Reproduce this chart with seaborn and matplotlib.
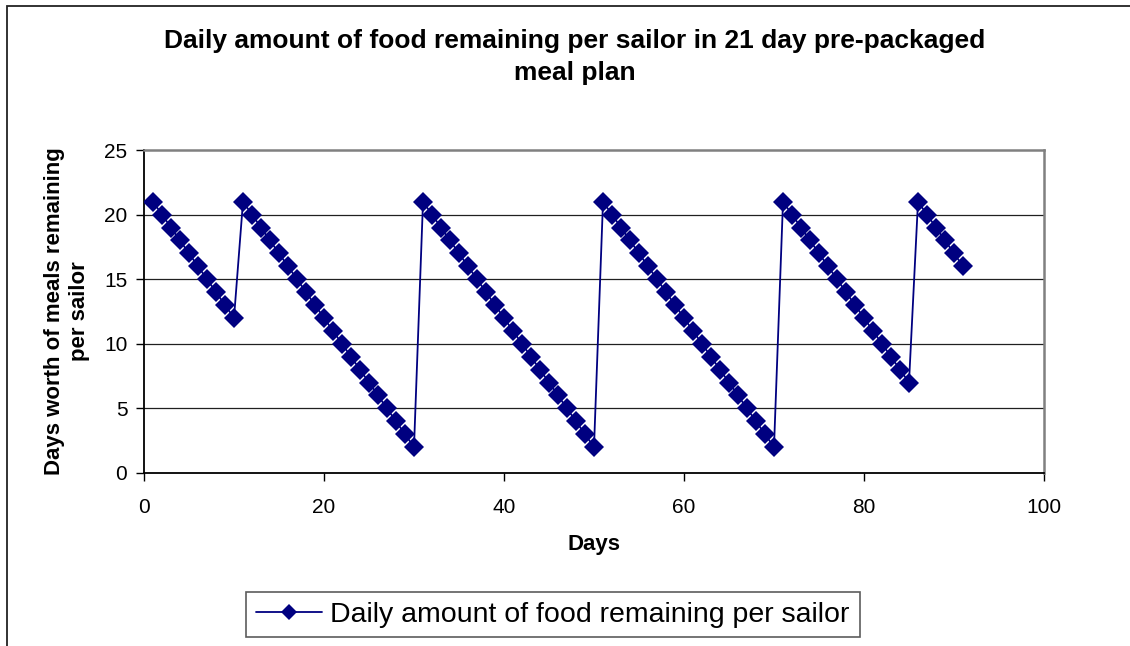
import matplotlib
matplotlib.use("Agg")
import matplotlib.pyplot as plt
import seaborn as sns
from matplotlib.patches import Rectangle

# day number for each point
days = list(range(1, 92))
# days worth of meals remaining per sailor
food_left = [21, 20, 19, 18, 17, 16, 15, 14, 13, 12,
             21, 20, 19, 18, 17, 16, 15, 14, 13, 12, 11, 10, 9, 8, 7, 6, 5, 4, 3, 2,
             21, 20, 19, 18, 17, 16, 15, 14, 13, 12, 11, 10, 9, 8, 7, 6, 5, 4, 3, 2,
             21, 20, 19, 18, 17, 16, 15, 14, 13, 12, 11, 10, 9, 8, 7, 6, 5, 4, 3, 2,
             21, 20, 19, 18, 17, 16, 15, 14, 13, 12, 11, 10, 9, 8, 7,
             21, 20, 19, 18, 17, 16]
x_ticks = [0, 20, 40, 60, 80, 100]
y_ticks = [0, 5, 10, 15, 20, 25]
series_name = 'Daily amount of food remaining per sailor'

sns.set_style("ticks")
plt.rcParams['font.family'] = ['Liberation Sans', 'DejaVu Sans']
plt.rcParams.update({'text.color': 'black', 'axes.labelcolor': 'black',
                     'xtick.color': 'black', 'ytick.color': 'black'})

fig = plt.figure(figsize=(11.3, 6.46), dpi=100)
ax = fig.add_axes([144 / 1130, 1 - 473 / 646, 900 / 1130, 323 / 646])

# outer chart border (runs off the right and bottom of the image)
fig.patches.append(Rectangle((7 / 1130, -0.1), 1.2, 1 - 6 / 646 + 0.1, transform=fig.transFigure,
                             fill=False, edgecolor='#222222', linewidth=1.3))

for yv in y_ticks[1:-1]:
    ax.axhline(yv, color='#202020', linewidth=0.9, zorder=1)

sns.lineplot(x=days, y=food_left, ax=ax, color='#000080', linewidth=1.3, marker='D', markersize=10,
             markeredgewidth=0, label=series_name, zorder=3)

ax.set_xlim(0, 100)
ax.set_ylim(0, 25)
ax.set_xticks(x_ticks)
ax.set_yticks(y_ticks)
ax.tick_params(axis='both', direction='out', length=6, width=1, color='black', labelsize=15)
ax.tick_params(axis='x', pad=12)
ax.tick_params(axis='y', pad=6)

for side in ['left', 'bottom']:
    ax.spines[side].set_color('black')
    ax.spines[side].set_linewidth(1.3)
for side in ['top', 'right']:
    ax.spines[side].set_visible(True)
    ax.spines[side].set_color('#808080')
    ax.spines[side].set_linewidth(1.8)

ax.set_xlabel('Days', fontsize=16, fontweight='bold', labelpad=12)
ax.set_ylabel('Days worth of meals remaining\nper sailor', fontsize=16, fontweight='bold',
              labelpad=10, linespacing=1.25)

fig.text(575 / 1130, 1 - 57 / 646, 'Daily amount of food remaining per sailor in 21 day pre-packaged\nmeal plan',
         ha='center', va='center', fontsize=19, fontweight='bold', linespacing=1.45)

leg = ax.legend(loc='center', bbox_to_anchor=(553 / 1130, 1 - 614.5 / 646), bbox_transform=fig.transFigure,
                fontsize=20.5, frameon=True, fancybox=False, edgecolor='#333333', handlelength=2.3,
                borderpad=0.35, handletextpad=0.3, markerscale=0.85)
leg.get_frame().set_linewidth(1.2)

plt.savefig('out.png', dpi=100)
